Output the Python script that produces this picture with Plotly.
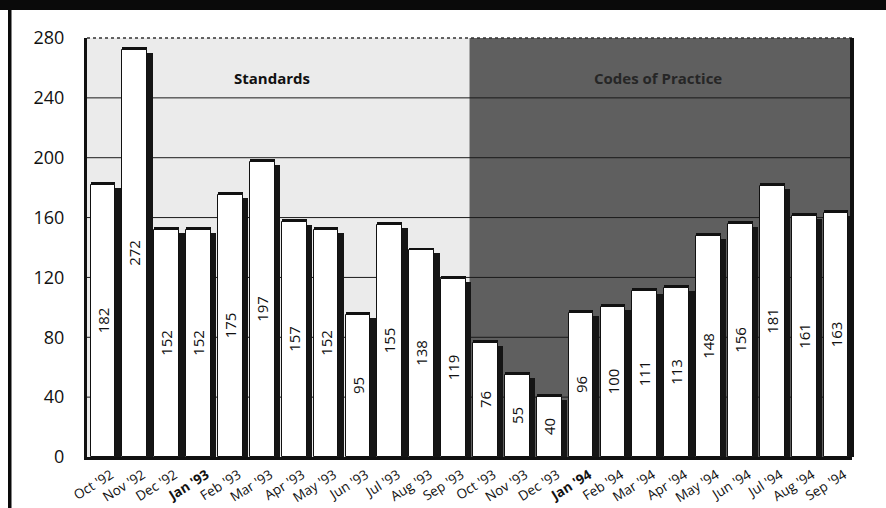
import plotly.graph_objects as go

# ---- data ----
months = ["Oct '92", "Nov '92", "Dec '92", "Jan '93", "Feb '93", "Mar '93", "Apr '93", "May '93",
          "Jun '93", "Jul '93", "Aug '93", "Sep '93", "Oct '93", "Nov '93", "Dec '93", "Jan '94",
          "Feb '94", "Mar '94", "Apr '94", "May '94", "Jun '94", "Jul '94", "Aug '94", "Sep '94"]
values = [182, 272, 152, 152, 175, 197, 157, 152, 95, 155, 138, 119,
          76, 55, 40, 96, 100, 111, 113, 148, 156, 181, 161, 163]
bold_months = ["Jan '93", "Jan '94"]
y_ticks = [0, 40, 80, 120, 160, 200, 240, 280]
region_labels = ["Standards", "Codes of Practice"]
n_standards = 12  # Oct '92 .. Sep '93

ticktext = [f"<b>{m}</b>" if m in bold_months else m for m in months]
xpos = list(range(len(months)))

# layout geometry (pixels)
W, H = 886, 508
L, R, T, B = 87, 34, 38, 51
PW, PH = W - L - R, H - T - B


def px_x(px):
    return (px - L) / PW


def px_y(py):
    return (H - B - py) / PH


FONT = "Open Sans"
BAR_W = 0.78
BAR_OFF = -0.39

fig = go.Figure()

# top band of each bar
fig.add_trace(go.Bar(
    x=xpos, y=[v + 2 for v in values], width=BAR_W, offset=BAR_OFF,
    marker=dict(color="#111111", line=dict(width=0)), hoverinfo="skip", showlegend=False))
# right-side shadow
fig.add_trace(go.Bar(
    x=xpos, y=[v - 2 for v in values], width=0.2, offset=0.36,
    marker=dict(color="#151515", line=dict(width=0)), hoverinfo="skip", showlegend=False))
# white bars with value labels
fig.add_trace(go.Bar(
    x=xpos, y=values, width=BAR_W, offset=BAR_OFF,
    marker=dict(color="white", line=dict(color="#111111", width=1)),
    text=[str(v) for v in values], textposition="inside", insidetextanchor="middle",
    textangle=-90, textfont=dict(family=FONT, size=15, color="#111111"),
    constraintext="none", cliponaxis=False, showlegend=False))

shapes = []
# region backgrounds
shapes.append(dict(type="rect", xref="x", yref="y", x0=-0.5, x1=n_standards - 0.5,
                   y0=0, y1=y_ticks[-1], fillcolor="#ebebeb", line=dict(width=0), layer="below"))
shapes.append(dict(type="rect", xref="x", yref="y", x0=n_standards - 0.5, x1=len(months) - 0.5,
                   y0=0, y1=y_ticks[-1], fillcolor="#5f5f5f", line=dict(width=0), layer="below"))
# gridlines
for t in y_ticks[1:-1]:
    shapes.append(dict(type="line", xref="x", yref="y", x0=-0.5, x1=len(months) - 0.5,
                       y0=t, y1=t, line=dict(color="#1a1a1a", width=1), layer="below"))
# plot top border
shapes.append(dict(type="line", xref="paper", yref="paper", x0=0, x1=1, y0=1, y1=1,
                   line=dict(color="#333333", width=1.5, dash="dot")))
# plot right border
shapes.append(dict(type="line", xref="paper", yref="paper", x0=1, x1=1, y0=0, y1=1,
                   line=dict(color="#111111", width=4)))
# outer frame: top band and left rule
shapes.append(dict(type="rect", xref="paper", yref="paper", x0=px_x(0), x1=px_x(W),
                   y0=px_y(10), y1=px_y(-2), fillcolor="#0a0a0a", line=dict(width=0)))
shapes.append(dict(type="rect", xref="paper", yref="paper", x0=px_x(8), x1=px_x(11.5),
                   y0=px_y(H + 2), y1=px_y(10), fillcolor="#0a0a0a", line=dict(width=0)))

annotations = [
    dict(x=5.3, y=253, xref="x", yref="y", text=f"<b>{region_labels[0]}</b>", showarrow=False,
         font=dict(family=FONT, size=15, color="#111111")),
    dict(x=17.4, y=253, xref="x", yref="y", text=f"<b>{region_labels[1]}</b>", showarrow=False,
         font=dict(family=FONT, size=15, color="#262626")),
]

fig.update_layout(
    width=W, height=H, margin=dict(l=L, r=R, t=T, b=B, autoexpand=False),
    paper_bgcolor="white", plot_bgcolor="white",
    barmode="overlay", bargap=0, showlegend=False,
    shapes=shapes, annotations=annotations,
    font=dict(family=FONT, color="#111111"),
    uniformtext=dict(mode=False),
)
fig.update_xaxes(
    range=[-0.5, len(months) - 0.5], tickmode="array", tickvals=xpos, ticktext=ticktext,
    tickangle=-32, tickfont=dict(family=FONT, size=13.5, color="#111111"),
    ticks="outside", ticklen=2, tickcolor="rgba(0,0,0,0)", automargin=False,
    ticklabelshift=8,
    showgrid=False, zeroline=False, showline=True, linecolor="#111111", linewidth=3,
)
fig.update_yaxes(
    range=[0, y_ticks[-1]], tickmode="array", tickvals=y_ticks,
    tickfont=dict(family=FONT, size=18, color="#111111"),
    ticks="outside", ticklen=16, tickcolor="rgba(0,0,0,0)", automargin=False,
    showgrid=False, zeroline=False, showline=True, linecolor="#111111", linewidth=3,
)

fig.write_html("out.html")
